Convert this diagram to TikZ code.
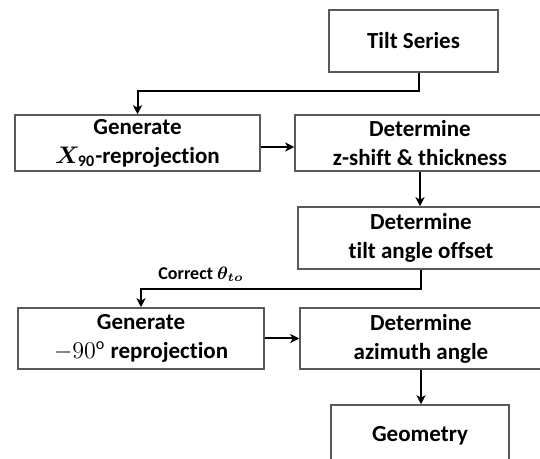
\documentclass[tikz,border=0pt]{standalone}
\usepackage{fontspec}
\setmainfont{Carlito}[Ligatures=NoCommon]
\usepackage{amsmath,bm}
\usetikzlibrary{arrows.meta}
\begin{document}
\begin{tikzpicture}[x=0.5pt,y=-0.5pt,
  stepbox/.style={draw=black!65, line width=0.75pt, rectangle, align=center,
    inner sep=0pt, font=\fontsize{11.5}{14.5}\selectfont\bfseries},
  arr/.style={draw=black, line width=1pt,
    -{Stealth[length=4.5pt,width=4.5pt,inset=1.2pt]}},
  lbl/.style={font=\fontsize{9}{10}\selectfont\bfseries, inner sep=0pt}]
\useasboundingbox (0,0) rectangle (540,459);
\clip (0,0) rectangle (540,459);

% process boxes
\node[stepbox, minimum width=84.5pt, minimum height=31pt] (ts) at (413.5,41) {Tilt Series};
\node[stepbox, minimum width=122.5pt, minimum height=28pt] (g1) at (137.5,143)
  {Generate\\$\bm{X}_{\mathbf{90}}$-reprojection};
\node[stepbox, minimum width=125pt, minimum height=28pt] (d1) at (420,143)
  {Determine\\z-shift \& thickness};
\node[stepbox, minimum width=123pt, minimum height=31pt] (d2) at (421,238)
  {Determine\\tilt angle offset};
\node[stepbox, minimum width=123pt, minimum height=30.5pt] (g2) at (141,338.5)
  {Generate\\$-90^{\mathrm{o}}$ reprojection};
\node[stepbox, minimum width=121pt, minimum height=30.5pt] (d3) at (421,338.5)
  {Determine\\azimuth angle};
\node[stepbox, minimum width=89pt, minimum height=31pt] (geo) at (420,436) {Geometry};

% label on the feedback path
\node[lbl] (corr) at (201,274) {Correct $\bm{\theta}_{\bm{to}}$};

% connectors
\draw[arr] ([xshift=2.75pt]ts.south) -- ++(0,18) -| (g1.north);
\draw[arr] ([yshift=-2pt]g1.east) -- ([yshift=-2pt]d1.west);
\draw[arr] (d1.south) -- (d1.south |- d2.north);
\draw[arr] (d2.south) -- ++(0,19) -| (g2.north);
\draw[arr] (g2.east) -- (d3.west);
\draw[arr] (d3.south) -- (d3.south |- geo.north);
\end{tikzpicture}
\end{document}
